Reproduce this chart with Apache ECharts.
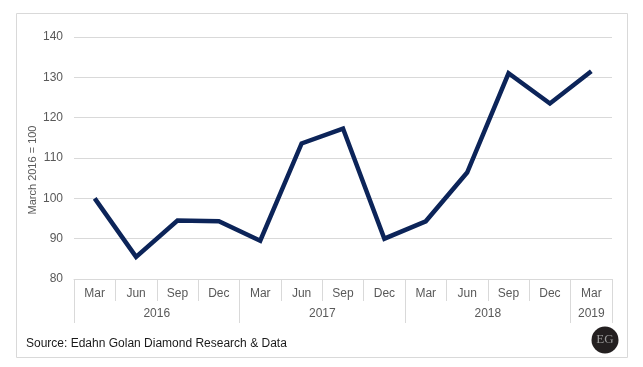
<!DOCTYPE html>
<html><head><meta charset="utf-8">
<script src="https://cdn.jsdelivr.net/npm/echarts@6/dist/echarts.min.js"></script>
<style>html,body{margin:0;padding:0;background:#fff}#c{width:643px;height:367px}</style>
</head><body><div id="c"></div>
<script>
const months = ['Mar','Jun','Sep','Dec','Mar','Jun','Sep','Dec','Mar','Jun','Sep','Dec','Mar'];
const values = [100, 85.5, 94.5, 94.3, 89.5, 113.6, 117.3, 90, 94.3, 106.4, 131, 123.5, 131.5];
const years = ['2016','2017','2018','2019'];
const yearCenters = [2, 6, 10, 12.5];
const yearBounds = [0, 4, 8, 12, 13];
const yTicks = [80, 140, 10];

const chart = echarts.init(document.getElementById('c'));
const grey = '#d9d9d9', txt = '#595959', font = 'Liberation Sans';
chart.setOption({
  animation: false,
  textStyle: {fontFamily: font},
  grid: {left: 74, right: 31, top: 37, bottom: 88},
  xAxis: [{
    type: 'category', data: months, boundaryGap: true,
    axisLine: {show: true, lineStyle: {color: grey, width: 1}},
    axisTick: {show: true, length: 22, interval: 0, lineStyle: {color: grey}},
    axisLabel: {interval: 0, margin: 9, color: txt, fontSize: 12, fontFamily: font},
    splitLine: {show: false}
  }, {
    type: 'value', min: 0, max: 13, position: 'bottom', offset: 22,
    axisLine: {show: false},
    axisTick: {show: true, length: 22, customValues: yearBounds, lineStyle: {color: grey}},
    axisLabel: {customValues: yearCenters, margin: 7, color: txt, fontSize: 12, fontFamily: font,
      formatter: v => years[yearCenters.indexOf(v)] || ''},
    splitLine: {show: false}
  }],
  yAxis: {
    type: 'value', min: yTicks[0], max: yTicks[1], interval: yTicks[2],
    axisLine: {show: false}, axisTick: {show: false},
    axisLabel: {margin: 11, color: txt, fontSize: 12, fontFamily: font},
    splitLine: {lineStyle: {color: grey, width: 1}}
  },
  series: [{
    type: 'line', data: values, xAxisIndex: 0, showSymbol: false, symbol: 'none',
    lineStyle: {color: '#0c2459', width: 4.5, join: 'miter'}
  }],
  graphic: [
    {type: 'rect', shape: {x: 16.5, y: 13.5, width: 611, height: 344}, style: {fill: 'none', stroke: grey, lineWidth: 1}, z: -1},
    {type: 'text', x: 33, y: 170, rotation: Math.PI/2, style: {text: 'March 2016 = 100', fill: txt, font: '11px "Liberation Sans"', align: 'center', verticalAlign: 'middle'}},
    {type: 'text', x: 26, y: 344, style: {text: 'Source: Edahn Golan Diamond Research & Data', fill: '#1a1a1a', font: '12px "Liberation Sans"', verticalAlign: 'middle'}},
    {type: 'circle', shape: {cx: 605, cy: 340, r: 13.5}, style: {fill: '#231f20'}},
    {type: 'text', x: 605, y: 340, style: {text: 'EG', fill: '#9a9a9a', font: '13px "Liberation Serif"', align: 'center', verticalAlign: 'middle'}}
  ]
});
</script></body></html>
